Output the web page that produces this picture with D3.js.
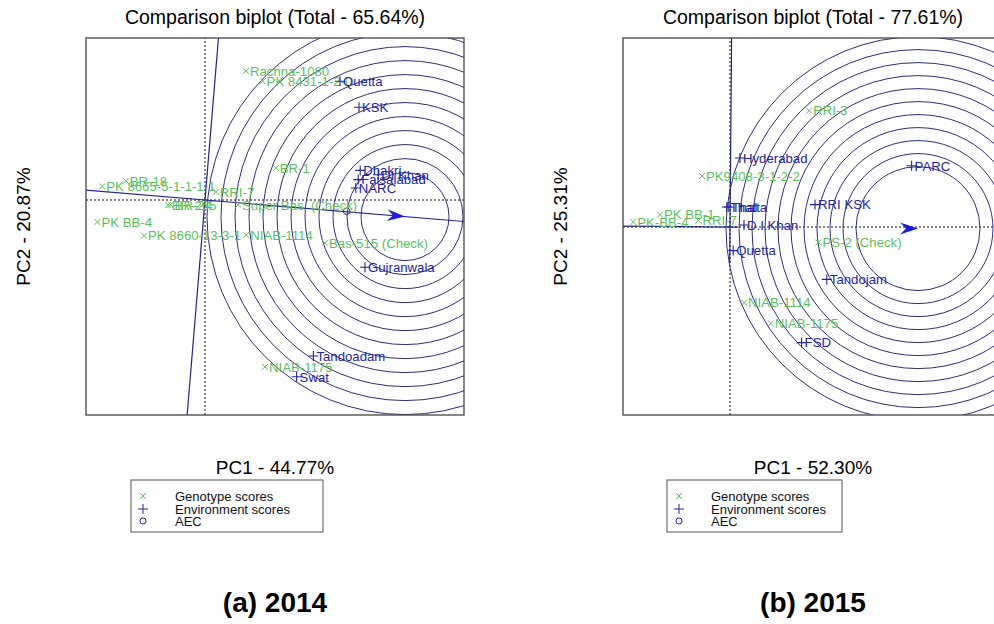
<!DOCTYPE html>
<html><head><meta charset="utf-8">
<script src="https://cdn.jsdelivr.net/npm/d3@7"></script>
<style>body{margin:0;background:#fff}svg{display:block}text{font-family:"Liberation Sans",Arial,sans-serif}</style>
</head><body>
<svg id="c" width="994" height="624"></svg>
<script>
// ---------- DATA (PC1, PC2 scores) ----------
const genotypes2014 = [
  ["Rachna-1080", 1.025, 3.225], ["PK 8431-1-2-0", 1.44, 2.97], ["BR-1", 1.77, 0.80],
  ["BR-18", -1.98, 0.48], ["PK 8665-5-1-1-1-1", -2.57, 0.34], ["RRI-7", 0.27, 0.20],
  ["BR-265", -0.93, -0.13], ["BR-24", -0.86, -0.12], ["Super Bas. (Check)", 0.825, -0.12],
  ["PK BB-4", -2.69, -0.55], ["PK 8660-13-3-1", -1.525, -0.89], ["NIAB-1114", 1.03, -0.875],
  ["Bas-515 (Check)", 3.0, -1.07], ["NIAB-1175", 1.5, -4.17]
];
const environments2014 = [
  ["Quetta", 3.375, 2.97], ["KSK", 3.85, 2.32], ["Dhakri", 3.88, 0.74], ["DI Khan", 4.33, 0.63],
  ["Faisalabad", 3.83, 0.51], ["NARC", 3.77, 0.30], ["Gujranwala", 4.0, -1.68],
  ["Tandoadam", 2.71, -3.9], ["Swat", 2.29, -4.42]
];
const aec2014 = [3.54, -0.28];
const ideal2014 = [5.0, -0.415];
const rings2014 = [1.1, 1.45, 1.8, 2.15, 2.5, 2.85, 3.2, 3.55, 3.9, 4.25, 4.6, 4.95];
const xDomain2014 = [-2.975, 6.475], yDomain2014 = [-5.375, 4.05];
const aecSpan2014 = [-20, 20], perpSpan2014 = [-20, 20];

const genotypes2015 = [
  ["RRI-3", 1.98, 2.91], ["PK9408-3-1-2-2", -0.7, 1.275], ["PK BB-1", -1.75, 0.31],
  ["PK-BB-4", -2.42, 0.125], ["RRI-7", -0.79, 0.16], ["PS-2 (Check)", 2.21, -0.39],
  ["NIAB-1114", 0.35, -1.89], ["NIAB-1175", 1.02, -2.41]
];
const environments2015 = [
  ["Hyderabad", 0.25, 1.725], ["PARC", 4.54, 1.53], ["Thatta", -0.08, 0.5], ["Thal", -0.03, 0.5],
  ["RRI KSK", 2.125, 0.56], ["D.I.Khan", 0.35, 0.05], ["Quetta", 0.08, -0.59],
  ["Tandojam", 2.42, -1.31], ["FSD", 1.79, -2.89]
];
const aec2015 = null;
const ideal2015 = [4.7, -0.04];
const rings2015 = [1.55, 1.875, 2.2, 2.525, 2.85, 3.175, 3.5, 3.825, 4.15, 4.475, 4.8];
const xDomain2015 = [-2.675, 6.825], yDomain2015 = [-4.7, 4.725];
const aecSpan2015 = [-20, 0.2], perpSpan2015 = [-0.9, 20];

const titles = ["Comparison biplot (Total - 65.64%)", "Comparison biplot (Total - 77.61%)"];
const pc1Labels = ["PC1 - 44.77%", "PC1 - 52.30%"];
const pc2Labels = ["PC2 - 20.87%", "PC2 - 25.31%"];
const captions = ["(a) 2014", "(b) 2015"];
const legendItems = ["Genotype scores", "Environment scores", "AEC"];

// ---------- DRAW ----------
const svg = d3.select("#c");
const GREEN = "#5cbf5c", BLUE = "#2323a6", LINE = "#24248c", RING = "#2e2e78", ARROW = "#1c1ce6";

function panel(o) {
  const x = d3.scaleLinear().domain(o.xd).range([o.left, o.right]);
  const y = d3.scaleLinear().domain(o.yd).range([o.bottom, o.top]);
  const g = svg.append("g");
  const cid = "clip" + o.id;
  svg.append("clipPath").attr("id", cid).append("rect")
    .attr("x", o.left).attr("y", o.top).attr("width", o.right - o.left).attr("height", o.bottom - o.top);
  const pg = g.append("g").attr("clip-path", `url(#${cid})`);

  // dotted axes through origin
  pg.append("line").attr("x1", x(o.xd[0])).attr("x2", x(o.xd[1])).attr("y1", y(0)).attr("y2", y(0))
    .attr("stroke", "#111").attr("stroke-width", 1).attr("stroke-dasharray", "2,2");
  pg.append("line").attr("x1", x(0)).attr("x2", x(0)).attr("y1", y(o.yd[0])).attr("y2", y(o.yd[1]))
    .attr("stroke", "#111").attr("stroke-width", 1).attr("stroke-dasharray", "2,2");

  // rings around ideal
  const k = (o.right - o.left) / (o.xd[1] - o.xd[0]);
  pg.selectAll("circle.ring").data(o.rings).join("circle").attr("class", "ring")
    .attr("cx", x(o.ideal[0])).attr("cy", y(o.ideal[1])).attr("r", d => d * k)
    .attr("fill", "none").attr("stroke", RING).attr("stroke-width", 1);

  // AEC abscissa and ordinate
  const n = Math.hypot(o.ideal[0], o.ideal[1]);
  const ux = o.ideal[0] / n, uy = o.ideal[1] / n;
  const px = -uy, py = ux;
  pg.append("line").attr("x1", x(ux * o.aecSpan[0])).attr("y1", y(uy * o.aecSpan[0]))
    .attr("x2", x(ux * o.aecSpan[1])).attr("y2", y(uy * o.aecSpan[1]))
    .attr("stroke", LINE).attr("stroke-width", 1.2);
  pg.append("line").attr("x1", x(px * o.perpSpan[0])).attr("y1", y(py * o.perpSpan[0]))
    .attr("x2", x(px * o.perpSpan[1])).attr("y2", y(py * o.perpSpan[1]))
    .attr("stroke", LINE).attr("stroke-width", 1.2);

  // arrow head at ideal
  const tx = x(o.ideal[0]), ty = y(o.ideal[1]);
  const ang = Math.atan2(y(uy) - y(0), x(ux) - x(0)) * 180 / Math.PI;
  pg.append("path").attr("d", "M0,0L-18,-6L-12,0L-18,6Z")
    .attr("transform", `translate(${tx},${ty}) rotate(${ang})`).attr("fill", ARROW);

  // AEC point
  if (o.aec) {
    pg.append("circle").attr("cx", x(o.aec[0])).attr("cy", y(o.aec[1])).attr("r", 3.3)
      .attr("fill", "none").attr("stroke", LINE).attr("stroke-width", 1);
  }

  // genotypes
  const gg = pg.selectAll("g.geno").data(o.geno).join("g").attr("class", "geno")
    .attr("transform", d => `translate(${x(d[1])},${y(d[2])})`);
  gg.append("path").attr("d", "M-3,-3L3,3M-3,3L3,-3").attr("stroke", GREEN).attr("stroke-width", 1);
  gg.append("text").attr("x", 4).attr("y", 4.8).attr("font-size", 13.2).attr("fill", GREEN).text(d => d[0]);

  // environments
  const ge = pg.selectAll("g.env").data(o.env).join("g").attr("class", "env")
    .attr("transform", d => `translate(${x(d[1])},${y(d[2])})`);
  ge.append("path").attr("d", "M-5,0L5,0M0,-5L0,5").attr("stroke", BLUE).attr("stroke-width", 1.1);
  ge.append("text").attr("x", 3).attr("y", 4.8).attr("font-size", 13.2).attr("fill", BLUE).text(d => d[0]);

  // frame
  g.append("rect").attr("x", o.left).attr("y", o.top).attr("width", o.right - o.left).attr("height", o.bottom - o.top)
    .attr("fill", "none").attr("stroke", "#444").attr("stroke-width", 1.3);

  const cx = (o.left + o.right) / 2;
  svg.append("text").attr("x", cx).attr("y", 24).attr("text-anchor", "middle").attr("font-size", 19.5).text(o.title);
  svg.append("text").attr("x", cx).attr("y", 474).attr("text-anchor", "middle").attr("font-size", 19).text(o.pc1);
  svg.append("text").attr("transform", `translate(${o.left - 56},${(o.top + o.bottom) / 2}) rotate(-90)`)
    .attr("text-anchor", "middle").attr("font-size", 19).text(o.pc2);
  svg.append("text").attr("x", cx).attr("y", 612).attr("text-anchor", "middle").attr("font-size", 28)
    .attr("font-weight", "bold").text(o.caption);

  // legend
  const lg = svg.append("g").attr("transform", `translate(${o.legX},480)`);
  lg.append("rect").attr("width", o.legW).attr("height", 52).attr("fill", "#fff").attr("stroke", "#555").attr("stroke-width", 1);
  const rows = [16, 29, 41];
  lg.append("path").attr("d", `M9,${rows[0]-3}L15,${rows[0]+3}M9,${rows[0]+3}L15,${rows[0]-3}`).attr("stroke", GREEN);
  lg.append("path").attr("d", `M7,${rows[1]}L17,${rows[1]}M12,${rows[1]-5}L12,${rows[1]+5}`).attr("stroke", BLUE);
  lg.append("circle").attr("cx", 12).attr("cy", rows[2]).attr("r", 3).attr("fill", "none").attr("stroke", BLUE);
  lg.selectAll("text").data(legendItems).join("text").attr("x", 44).attr("y", (d, i) => rows[i] + 4.5)
    .attr("font-size", 13).attr("fill", "#111").text(d => d);
}

panel({id: 1, left: 86, right: 464, top: 38, bottom: 415, xd: xDomain2014, yd: yDomain2014,
  geno: genotypes2014, env: environments2014, aec: aec2014, ideal: ideal2014, rings: rings2014,
  aecSpan: aecSpan2014, perpSpan: perpSpan2014,
  title: titles[0], pc1: pc1Labels[0], pc2: pc2Labels[0], caption: captions[0], legX: 131, legW: 192});
panel({id: 2, left: 623, right: 1003, top: 38, bottom: 415, xd: xDomain2015, yd: yDomain2015,
  geno: genotypes2015, env: environments2015, aec: aec2015, ideal: ideal2015, rings: rings2015,
  aecSpan: aecSpan2015, perpSpan: perpSpan2015,
  title: titles[1], pc1: pc1Labels[1], pc2: pc2Labels[1], caption: captions[1], legX: 667, legW: 175});
</script>
</body></html>
